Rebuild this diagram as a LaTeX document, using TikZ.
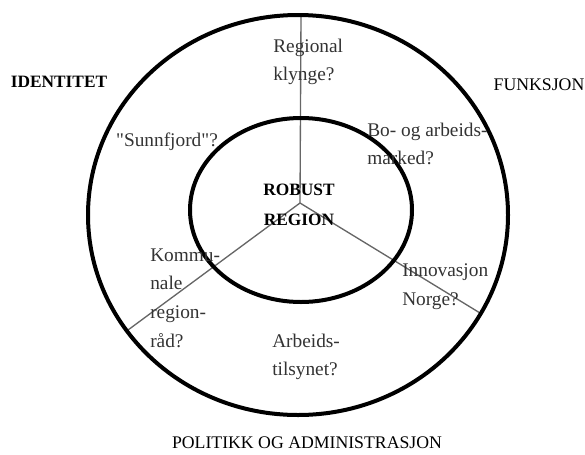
\documentclass[tikz,border=0pt]{standalone}
\usepackage{fontspec}
\setmainfont{Liberation Serif}[Ligatures=TeXOff]
\tikzset{
  ring/.style={line width=3pt, black},
  spoke/.style={line width=1pt, gray!80!black},
  label/.style={font=\fontsize{14.5}{21.5}\selectfont, text=black!80, align=left, inner sep=0pt},
  heading/.style={font=\fontsize{13.3}{22.5}\selectfont, text=black, align=center, inner sep=0pt}
}
\begin{document}
\begin{tikzpicture}[x=0.75pt, y=-0.75pt]
            \useasboundingbox (0,0) rectangle (585,454);

            \coordinate (hub) at (300,203);
            \coordinate (top) at (301,15);
            \coordinate (lower left) at (128,330);
            \coordinate (lower right) at (480,313);

            \draw[spoke] (hub) -- (top);
            \draw[spoke] (hub) -- (lower left);
            \draw[spoke] (hub) -- (lower right);

            \draw[ring] (298,215) ellipse [x radius=210, y radius=200];
            \draw[ring] (301,210) ellipse [x radius=111, y radius=92];

            \node[heading, font=\fontsize{13}{22.5}\selectfont\bfseries] (identitet) at (59,82) {IDENTITET};
            \node[heading] (funksjon) at (539,85) {FUNKSJON};
            \node[heading] (politikk) at (307,443) {POLITIKK OG ADMINISTRASJON};
            \node[heading, font=\fontsize{13}{22.5}\selectfont\bfseries] (robust) at (299,205) {ROBUST\\REGION};

            \node[label, anchor=west] (klynge) at (273,62) {Regional\\klynge?};
            \node[label, anchor=west] (marked) at (367,144) {Bo- og arbeids-\\marked?};
            \node[label] (sunnfjord) at (167,142) {"Sunnfjord"?};
            \node[label, anchor=west] (regionrad) at (150,298) {Kommu-\\nale\\region-\\råd?};
            \node[label, anchor=west] (innovasjon) at (402,287) {Innovasjon\\Norge?};
            \node[label, anchor=west] (tilsynet) at (272,357) {Arbeids-\\tilsynet?};
\end{tikzpicture}
\end{document}
